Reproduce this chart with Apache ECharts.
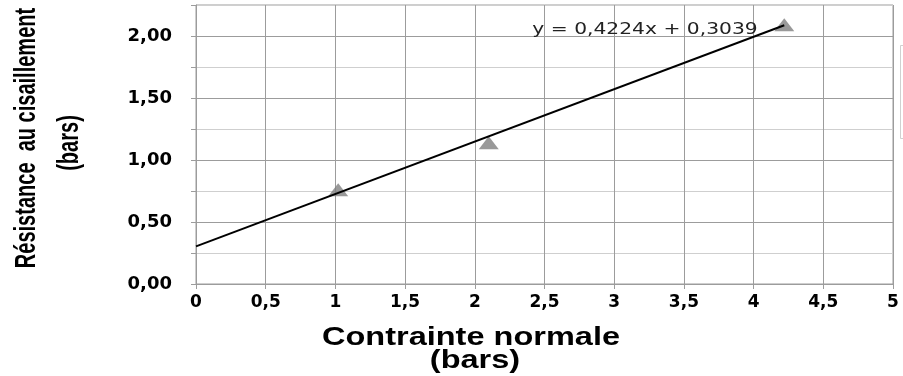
<!DOCTYPE html>
<html>
<head>
<meta charset="utf-8">
<script src="https://cdn.jsdelivr.net/npm/echarts@6/dist/echarts.min.js"></script>
<style>
html,body{margin:0;padding:0;background:#fff;}
#chart{width:903px;height:376px;}
</style>
</head>
<body>
<div id="chart"></div>
<script>
// Data
const normalStress = [1.02, 2.10, 4.22];        // Contrainte normale (bars)
const shearStrength = [0.76, 1.14, 2.09];       // Résistance au cisaillement (bars)
const trendSlope = 0.4224;
const trendIntercept = 0.3039;
const equationText = 'y = 0,4224x + 0,3039';
const xTitle = ['Contrainte normale', '(bars)'];
const yTitle = ['Résistance  au cisaillement', '(bars)'];

const points = normalStress.map((x, i) => [x, shearStrength[i]]);
const xEnd = Math.max(...normalStress);
const trendData = [[0, trendIntercept], [xEnd, trendSlope * xEnd + trendIntercept]];

const chart = echarts.init(document.getElementById('chart'), null, {renderer: 'canvas'});
const gridColor = '#9c9c9c';
const lightGrid = '#cfcfcf';
const labelFont = 'DejaVu Sans';

chart.setOption({
  animation: false,
  backgroundColor: '#ffffff',
  grid: {left: 196, right: 10, top: 5, bottom: 92, show: true, borderColor: gridColor, borderWidth: 1, backgroundColor: 'transparent'},
  xAxis: {
    type: 'value', min: 0, max: 5, interval: 0.5,
    axisLine: {show: true, lineStyle: {color: gridColor, width: 1}},
    axisTick: {show: true, inside: false, length: 5, lineStyle: {color: gridColor}},
    splitLine: {show: true, lineStyle: {color: gridColor, width: 1}},
    axisLabel: {
      margin: 10, color: '#000', fontFamily: labelFont, fontWeight: 'bold', fontSize: 17,
      formatter: v => String(v).replace('.', ',')
    }
  },
  yAxis: {
    type: 'value', min: 0, max: 2.25, interval: 0.25,
    axisLine: {show: true, lineStyle: {color: gridColor, width: 1}},
    axisTick: {show: true, inside: false, length: 5, lineStyle: {color: gridColor}},
    splitLine: {show: true, lineStyle: {color: [gridColor, lightGrid], width: 1}},
    axisLabel: {
      margin: 24, color: '#000', fontFamily: labelFont, fontWeight: 'bold', fontSize: 18,
      formatter: v => (Math.round(v * 100) % 50 === 0) ? v.toFixed(2).replace('.', ',') : ''
    }
  },
  series: [
    {
      type: 'scatter', data: points, symbol: 'triangle', symbolSize: [20, 13],
      itemStyle: {color: '#7f7f7f'}, z: 2
    },
    {
      type: 'line', data: trendData, symbol: 'none', silent: true,
      lineStyle: {color: '#000', width: 2}, z: 3
    }
  ],
  graphic: [
    {type: 'text', x: 645, y: 30, scaleX: 1.35, z: 10,
     style: {text: equationText, font: '15px "DejaVu Sans"', fill: '#222', textAlign: 'center', textVerticalAlign: 'middle'}},
    {type: 'text', x: 471, y: 338, scaleX: 1.3,
     style: {text: xTitle[0], font: 'bold 25px "Liberation Sans"', fill: '#000', textAlign: 'center', textVerticalAlign: 'middle'}},
    {type: 'text', x: 475, y: 361, scaleX: 1.3,
     style: {text: xTitle[1], font: 'bold 25px "Liberation Sans"', fill: '#000', textAlign: 'center', textVerticalAlign: 'middle'}},
    {type: 'text', x: 27, y: 138, rotation: Math.PI / 2, scaleX: 0.77, scaleY: 1.1,
     style: {text: yTitle[0], font: 'bold 26px "Liberation Sans"', fill: '#000', textAlign: 'center', textVerticalAlign: 'middle'}},
    {type: 'text', x: 70, y: 143, rotation: Math.PI / 2, scaleX: 0.77, scaleY: 1.1,
     style: {text: yTitle[1], font: 'bold 26px "Liberation Sans"', fill: '#000', textAlign: 'center', textVerticalAlign: 'middle'}},
    {type: 'rect', shape: {x: 900.5, y: 45.5, width: 10, height: 93},
     style: {fill: 'none', stroke: '#d0d0d0', lineWidth: 1}}
  ]
});
</script>
</body>
</html>
